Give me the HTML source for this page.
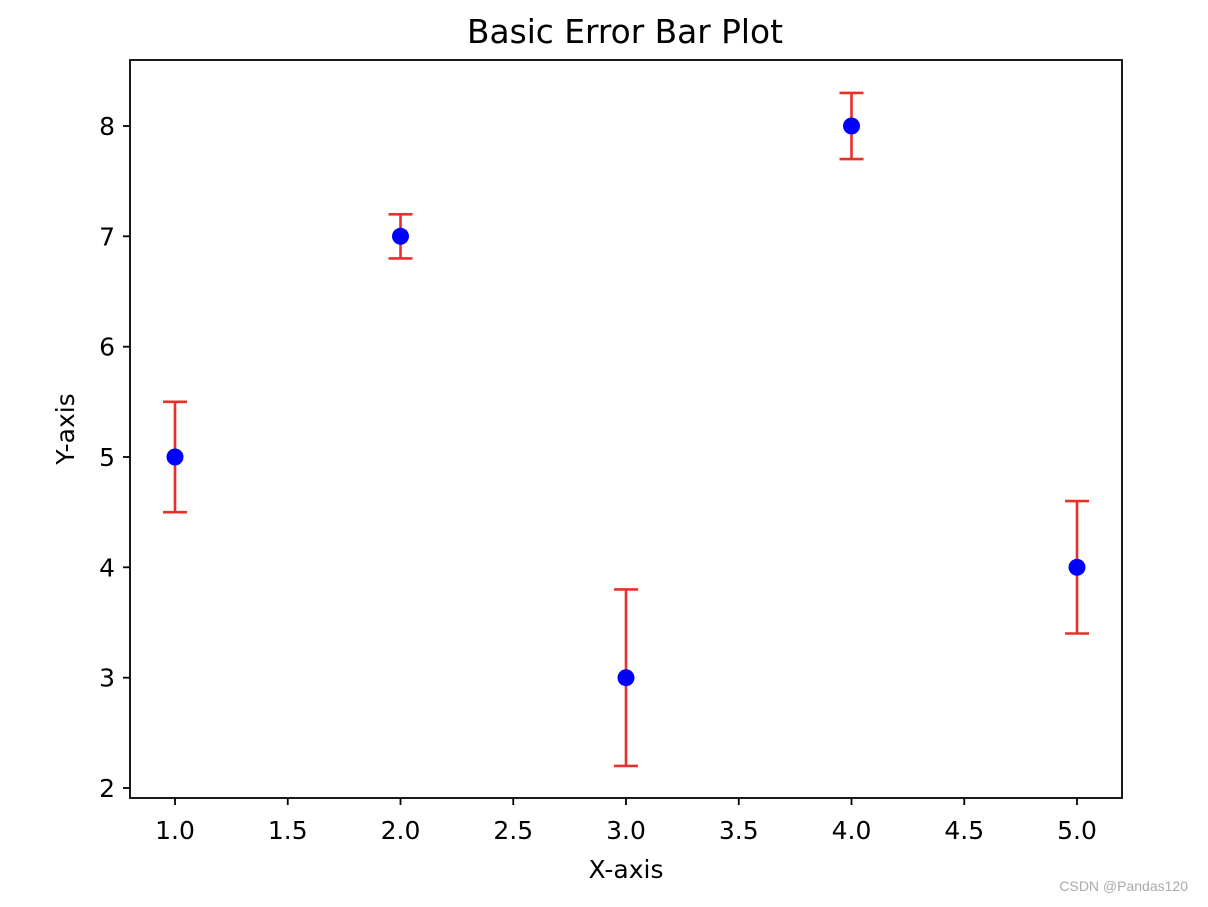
<!DOCTYPE html>
<html><head><meta charset="utf-8"><style>body{margin:0;background:#fff}</style></head><body>
<svg width="1208" height="902" xmlns="http://www.w3.org/2000/svg" font-family="'DejaVu Sans', 'Liberation Sans', sans-serif">
<rect width="1208" height="902" fill="#fff"/>
<text x="625" y="43" font-size="32.8" text-anchor="middle">Basic Error Bar Plot</text>
<g stroke="#000" stroke-width="1.8">
<rect x="130" y="60" width="992" height="738" fill="none"/>
<line x1="175" y1="798" x2="175" y2="805"/><line x1="287.75" y1="798" x2="287.75" y2="805"/>
<line x1="400.5" y1="798" x2="400.5" y2="805"/><line x1="513.25" y1="798" x2="513.25" y2="805"/>
<line x1="626" y1="798" x2="626" y2="805"/><line x1="738.75" y1="798" x2="738.75" y2="805"/>
<line x1="851.5" y1="798" x2="851.5" y2="805"/><line x1="964.25" y1="798" x2="964.25" y2="805"/>
<line x1="1077" y1="798" x2="1077" y2="805"/>
<line x1="123" y1="788" x2="130" y2="788"/><line x1="123" y1="677.7" x2="130" y2="677.7"/>
<line x1="123" y1="567.3" x2="130" y2="567.3"/><line x1="123" y1="457" x2="130" y2="457"/>
<line x1="123" y1="346.7" x2="130" y2="346.7"/><line x1="123" y1="236.3" x2="130" y2="236.3"/>
<line x1="123" y1="126" x2="130" y2="126"/>
</g>
<g font-size="25" text-anchor="middle">
<text x="175" y="839">1.0</text><text x="287.75" y="839">1.5</text><text x="400.5" y="839">2.0</text>
<text x="513.25" y="839">2.5</text><text x="626" y="839">3.0</text><text x="738.75" y="839">3.5</text>
<text x="851.5" y="839">4.0</text><text x="964.25" y="839">4.5</text><text x="1077" y="839">5.0</text>
</g>
<g font-size="25" text-anchor="end">
<text x="115" y="797">2</text><text x="115" y="686.7">3</text><text x="115" y="576.3">4</text>
<text x="115" y="466">5</text><text x="115" y="355.7">6</text><text x="115" y="245.3">7</text>
<text x="115" y="135">8</text>
</g>
<text x="626" y="878" font-size="25" text-anchor="middle">X-axis</text>
<text transform="translate(74,429) rotate(-90)" font-size="25" text-anchor="middle">Y-axis</text>
<g stroke="#e8302a" stroke-width="2.6">
<line x1="175" y1="401.8" x2="175" y2="512.2"/><line x1="163" y1="401.8" x2="187" y2="401.8"/><line x1="163" y1="512.2" x2="187" y2="512.2"/>
<line x1="400.5" y1="214.3" x2="400.5" y2="258.4"/><line x1="388.5" y1="214.3" x2="412.5" y2="214.3"/><line x1="388.5" y1="258.4" x2="412.5" y2="258.4"/>
<line x1="626" y1="589.4" x2="626" y2="765.9"/><line x1="614" y1="589.4" x2="638" y2="589.4"/><line x1="614" y1="765.9" x2="638" y2="765.9"/>
<line x1="851.5" y1="92.9" x2="851.5" y2="159.1"/><line x1="839.5" y1="92.9" x2="863.5" y2="92.9"/><line x1="839.5" y1="159.1" x2="863.5" y2="159.1"/>
<line x1="1077" y1="501.1" x2="1077" y2="633.5"/><line x1="1065" y1="501.1" x2="1089" y2="501.1"/><line x1="1065" y1="633.5" x2="1089" y2="633.5"/>
</g>
<g fill="#0000ff">
<circle cx="175" cy="457" r="8.5"/><circle cx="400.5" cy="236.3" r="8.5"/><circle cx="626" cy="677.7" r="8.5"/>
<circle cx="851.5" cy="126" r="8.5"/><circle cx="1077" cy="567.3" r="8.5"/>
</g>
<text x="1188" y="891" font-size="14" font-family="'Liberation Sans', sans-serif" fill="#aaa" text-anchor="end">CSDN @Pandas120</text>
</svg>
</body></html>
